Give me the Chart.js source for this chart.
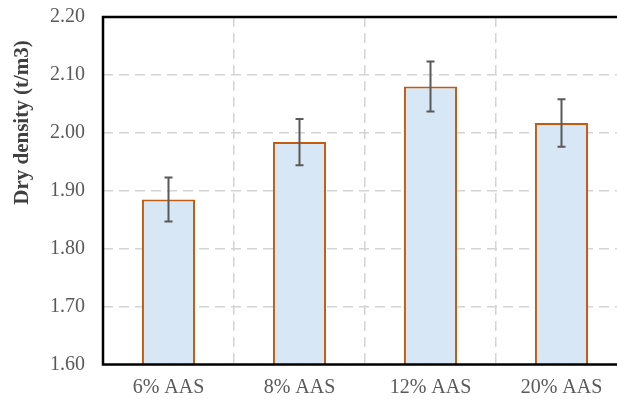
<!DOCTYPE html>
<html>
<head>
<meta charset="utf-8">
<script src="https://cdn.jsdelivr.net/npm/chart.js@4/dist/chart.umd.min.js"></script>
<style>
html,body{margin:0;padding:0;overflow:hidden;background:#fff;width:617px;height:401px;}
canvas{display:block;}
</style>
</head>
<body>
<canvas id="c" width="640" height="401"></canvas>
<script>
const categories = ["6% AAS", "8% AAS", "12% AAS", "20% AAS"];
const dryDensity = [1.885, 1.984, 2.080, 2.017];
const errors = [0.038, 0.040, 0.043, 0.041];
const yTicks = [1.60, 1.70, 1.80, 1.90, 2.00, 2.10, 2.20];
const yTitle = "Dry density (t/m3)";

const frameAndErrors = {
  id: 'frameAndErrors',
  afterDatasetsDraw(chart) {
    const ctx = chart.ctx;
    const x = chart.scales.x, y = chart.scales.y;
    ctx.save();
    ctx.strokeStyle = '#595959';
    ctx.lineWidth = 2;
    dryDensity.forEach((v, i) => {
      const cx = x.getPixelForValue(i);
      const top = y.getPixelForValue(v + errors[i]);
      const bot = y.getPixelForValue(v - errors[i]);
      ctx.beginPath();
      ctx.moveTo(cx, top); ctx.lineTo(cx, bot);
      ctx.moveTo(cx - 4, top); ctx.lineTo(cx + 4, top);
      ctx.moveTo(cx - 4, bot); ctx.lineTo(cx + 4, bot);
      ctx.stroke();
    });
    const a = chart.chartArea;
    ctx.strokeStyle = '#000';
    ctx.lineWidth = 2.5;
    ctx.strokeRect(a.left, a.top, a.right - a.left, a.bottom - a.top);
    // y axis title
    ctx.translate(23, 122.5);
    ctx.rotate(-Math.PI / 2);
    ctx.fillStyle = '#404040';
    ctx.font = 'bold 21px "Liberation Serif", "Times New Roman", serif';
    ctx.textAlign = 'center';
    ctx.textBaseline = 'middle';
    ctx.fillText(yTitle, 0, 0);
    ctx.restore();
  }
};

new Chart(document.getElementById('c'), {
  type: 'bar',
  data: {
    labels: categories,
    datasets: [{
      data: dryDensity,
      backgroundColor: '#d8e7f6',
      borderColor: '#c55a11',
      borderWidth: 2,
      borderSkipped: false,
      barPercentage: 0.405,
      categoryPercentage: 1.0
    }]
  },
  options: {
    responsive: false,
    animation: false,
    devicePixelRatio: 1,
    layout: { padding: { top: 17, right: 13, left: 0, bottom: 0 } },
    plugins: { legend: { display: false }, tooltip: { enabled: false } },
    scales: {
      x: {
        offset: true,
        grid: { offset: true, color: '#d4d4d4', lineWidth: 1.5, drawTicks: false },
        border: { display: false, dash: [10, 6] },
        ticks: { color: '#595959', padding: 11, font: { family: '"Liberation Serif", "Times New Roman", serif', size: 20 } },
        afterFit(s) { s.height = 36.5; s.paddingLeft = 0; s.paddingRight = 0; }
      },
      y: {
        min: 1.60, max: 2.20,
        afterBuildTicks(s) { s.ticks = yTicks.map(v => ({ value: v })); },
        grid: { color: '#d4d4d4', lineWidth: 1.5, drawTicks: false },
        border: { display: false, dash: [10, 6] },
        ticks: {
          color: '#595959', padding: 18,
          font: { family: '"Liberation Serif", "Times New Roman", serif', size: 20 },
          callback: v => Number(v).toFixed(2)
        },
        afterFit(s) { s.width = 103; s.paddingTop = 0; s.paddingBottom = 0; }
      }
    }
  },
  plugins: [frameAndErrors]
});
</script>
</body>
</html>
